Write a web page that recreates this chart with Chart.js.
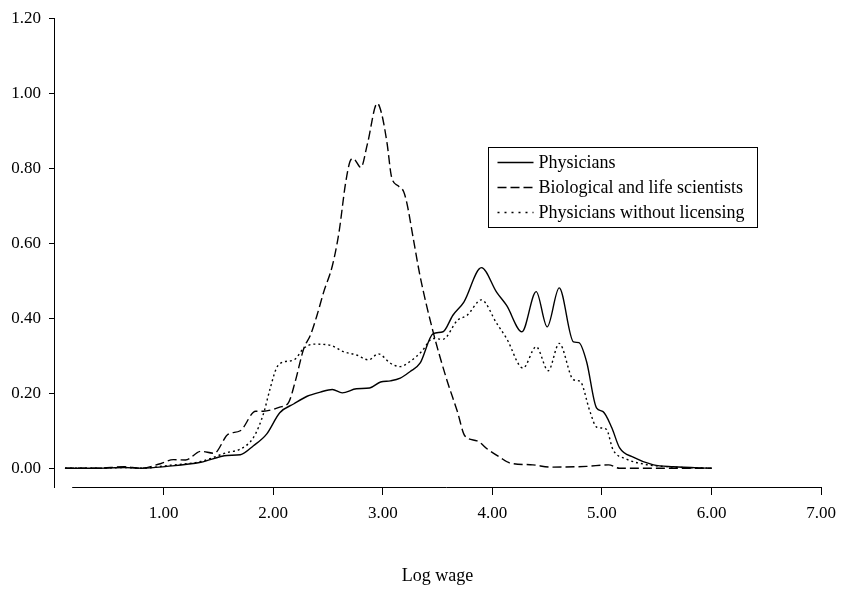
<!DOCTYPE html>
<html>
<head>
<meta charset="utf-8">
<script src="https://cdn.jsdelivr.net/npm/chart.js@4/dist/chart.umd.min.js"></script>
<style>
  html, body { margin: 0; padding: 0; background: #fff; }
  #wrap { width: 844px; height: 591px; }
</style>
</head>
<body>
<div id="wrap"><canvas id="myChart" width="844" height="591"></canvas></div>
<script>
// log wage (x) and density (y)
var physX = [0.10, 0.40, 0.64, 0.80, 1.03, 1.34, 1.58, 1.70, 1.82, 1.94, 2.06, 2.19, 2.31, 2.43, 2.54, 2.63, 2.76, 2.88, 2.98, 3.07, 3.16, 3.25, 3.34, 3.46, 3.55, 3.64, 3.74, 3.90, 4.04, 4.13, 4.27, 4.40, 4.50, 4.61, 4.74, 4.79, 4.86, 4.95, 5.01, 5.09, 5.16, 5.29, 5.47, 5.65, 6.00];
var physY = [0, 0, 0.002, 0, 0.005, 0.016, 0.034, 0.036, 0.060, 0.091, 0.148, 0.172, 0.192, 0.203, 0.210, 0.201, 0.212, 0.214, 0.230, 0.233, 0.240, 0.258, 0.280, 0.359, 0.364, 0.408, 0.443, 0.535, 0.469, 0.434, 0.364, 0.471, 0.377, 0.481, 0.337, 0.335, 0.284, 0.161, 0.151, 0.108, 0.055, 0.029, 0.009, 0.004, 0];

var bioX = [0.10, 0.40, 0.64, 0.79, 0.97, 1.09, 1.20, 1.34, 1.46, 1.59, 1.70, 1.84, 1.91, 2.06, 2.14, 2.20, 2.28, 2.34, 2.40, 2.46, 2.54, 2.60, 2.66, 2.70, 2.73, 2.80, 2.86, 2.95, 2.99, 3.04, 3.08, 3.14, 3.19, 3.22, 3.28, 3.34, 3.46, 3.58, 3.68, 3.75, 3.86, 3.96, 4.07, 4.16, 4.37, 4.53, 4.86, 5.06, 5.16, 6.00];
var bioY = [0, 0, 0.004, 0, 0.012, 0.023, 0.022, 0.045, 0.040, 0.091, 0.100, 0.152, 0.152, 0.163, 0.175, 0.230, 0.320, 0.355, 0.408, 0.469, 0.540, 0.628, 0.759, 0.817, 0.826, 0.802, 0.865, 0.973, 0.945, 0.865, 0.777, 0.753, 0.738, 0.707, 0.610, 0.513, 0.363, 0.240, 0.152, 0.086, 0.073, 0.050, 0.029, 0.014, 0.009, 0.003, 0.005, 0.009, 0, 0];

var noLicX = [0.10, 0.40, 0.64, 0.80, 1.03, 1.34, 1.58, 1.70, 1.82, 1.91, 1.97, 2.03, 2.09, 2.19, 2.28, 2.37, 2.52, 2.64, 2.76, 2.87, 2.96, 3.07, 3.16, 3.25, 3.35, 3.46, 3.55, 3.68, 3.77, 3.90, 4.04, 4.13, 4.28, 4.40, 4.51, 4.61, 4.74, 4.80, 4.89, 4.95, 5.04, 5.10, 5.22, 5.40, 5.60, 6.00];
var noLicY = [0, 0, 0.002, 0, 0.007, 0.018, 0.042, 0.051, 0.082, 0.144, 0.210, 0.267, 0.283, 0.289, 0.320, 0.331, 0.328, 0.311, 0.302, 0.289, 0.305, 0.280, 0.271, 0.285, 0.310, 0.346, 0.344, 0.394, 0.408, 0.449, 0.386, 0.346, 0.267, 0.324, 0.260, 0.333, 0.236, 0.232, 0.152, 0.110, 0.104, 0.050, 0.025, 0.010, 0.004, 0];

var seriesNames = ['Physicians', 'Biological and life scientists', 'Physicians without licensing'];
var xTickValues = [1, 2, 3, 4, 5, 6, 7];
var yTickValues = [0, 0.2, 0.4, 0.6, 0.8, 1.0, 1.2];

function toPoints(xs, ys) {
    return xs.map(function (x, i) { return { x: x, y: ys[i] }; });
}

var serif = 'Liberation Serif, Times New Roman, serif';

// x axis line does not reach the y axis in the original
var axisLine = {
    id: 'axisLine',
    afterDraw: function (chart) {
        var c = chart.ctx, a = chart.chartArea, xs = chart.scales.x;
        c.save();
        c.strokeStyle = '#000';
        c.lineWidth = 1;
        c.beginPath();
        c.moveTo(xs.getPixelForValue(0.166), Math.round(a.bottom) + 0.5);
        c.lineTo(a.right, Math.round(a.bottom) + 0.5);
        c.stroke();
        c.restore();
    }
};

// boxed legend inside the plot
var boxLegend = {
    id: 'boxLegend',
    afterDraw: function (chart) {
        var c = chart.ctx;
        var bx = 488.5, by = 147.5, bw = 269, bh = 80;
        c.save();
        c.strokeStyle = '#000';
        c.lineWidth = 1;
        c.strokeRect(bx, by, bw, bh);
        c.font = '18px ' + serif;
        c.fillStyle = '#000';
        c.textBaseline = 'middle';
        chart.data.datasets.forEach(function (ds, i) {
            var yy = by + 15 + i * 25;
            c.setLineDash(ds.legendDash || ds.borderDash || []);
            c.lineWidth = 1.3;
            c.beginPath();
            c.moveTo(bx + 9, yy);
            c.lineTo(bx + 45, yy);
            c.stroke();
            c.setLineDash([]);
            c.fillText(ds.label, bx + 50, yy + 1);
        });
        c.restore();
    }
};

var ctx = document.getElementById('myChart').getContext('2d');
var myChart = new Chart(ctx, {
    type: 'line',
    data: {
        datasets: [{
            label: seriesNames[0],
            data: toPoints(physX, physY),
            borderColor: '#000',
            borderWidth: 1.4,
            borderDash: []
        }, {
            label: seriesNames[1],
            data: toPoints(bioX, bioY),
            borderColor: '#000',
            borderWidth: 1.4,
            borderDash: [9, 4]
        }, {
            label: seriesNames[2],
            data: toPoints(noLicX, noLicY),
            borderColor: '#000',
            borderWidth: 1.4,
            borderDash: [2, 3],
            legendDash: [2, 5]
        }]
    },
    options: {
        responsive: false,
        animation: false,
        devicePixelRatio: 1,
        elements: {
            point: { radius: 0 },
            line: { cubicInterpolationMode: 'monotone' }
        },
        layout: { padding: { left: 0, right: 22, top: 8, bottom: 0 } },
        plugins: {
            legend: { display: false },
            tooltip: { enabled: false }
        },
        scales: {
            x: {
                type: 'linear',
                min: 0,
                max: 7,
                afterBuildTicks: function (s) {
                    s.ticks = xTickValues.map(function (v) { return { value: v }; });
                },
                afterFit: function (s) { s.height = 104; },
                border: { display: false },
                grid: { drawOnChartArea: false, drawTicks: true, tickLength: 8, color: '#000' },
                ticks: {
                    color: '#000',
                    padding: 8,
                    maxRotation: 0,
                    font: { family: serif, size: 17 },
                    callback: function (v) { return v.toFixed(2); }
                },
                title: {
                    display: true,
                    text: 'Log wage',
                    color: '#000',
                    font: { family: serif, size: 18 },
                    padding: { top: 0, bottom: 4 }
                }
            },
            y: {
                min: -0.05,
                max: 1.2,
                afterBuildTicks: function (s) {
                    s.ticks = yTickValues.map(function (v) { return { value: v }; });
                },
                afterFit: function (s) { s.width = 54; },
                border: { display: true, color: '#000', width: 1 },
                grid: { drawOnChartArea: false, drawTicks: true, tickLength: 5, color: '#000' },
                ticks: {
                    color: '#000',
                    padding: 8,
                    font: { family: serif, size: 17 },
                    callback: function (v) { return v.toFixed(2); }
                }
            }
        }
    },
    plugins: [axisLine, boxLegend]
});
</script>
</body>
</html>
